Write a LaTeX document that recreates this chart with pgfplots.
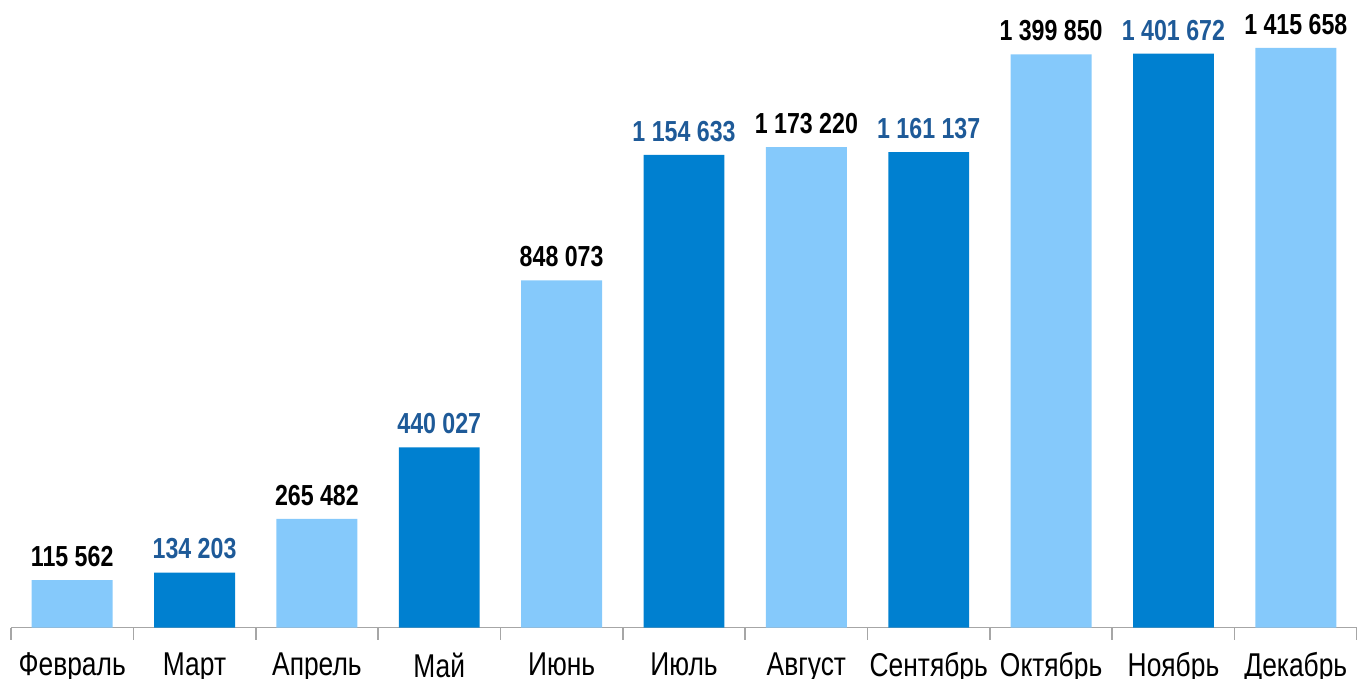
\documentclass[border=0pt]{standalone}
\usepackage{pgfplots}
\pgfplotsset{compat=1.18}
\usepackage{fontspec}
\setmainfont{Liberation Sans}[FakeStretch=0.8]
\definecolor{lightb}{HTML}{85C9FB}
\definecolor{darkb}{HTML}{0080D0}
\definecolor{labdark}{HTML}{1E5A98}
\definecolor{axgray}{HTML}{A6A6A6}
\begin{document}
\begin{tikzpicture}
\begin{axis}[
  scale only axis,
  width=673.5pt, height=314pt,
  xmin=-0.5, xmax=10.5, ymin=0, ymax=1532800,
  axis x line=bottom, axis y line=none,
  axis line style={axgray, line width=0.8pt, -},
  ybar, bar width=40.5pt, bar shift=0pt,
  xtick={0,...,10},
  xticklabels={Февраль,Март,Апрель,Май,Июнь,Июль,Август,Сентябрь,Октябрь,Ноябрь,Декабрь},
  major tick length=0pt,
  minor xtick={-0.5,0.5,...,10.5},
  minor tick length=6pt,
  minor tick style={axgray, line width=0.8pt},
  tick align=outside,
  xticklabel style={font=\fontsize{16.5pt}{17pt}\selectfont, anchor=north, yshift=-9pt},
  point meta=explicit symbolic,
  nodes near coords,
  every node near coord/.append style={font=\bfseries\fontsize{14.5pt}{15pt}\selectfont, anchor=south, inner sep=0pt, yshift=6.5pt},
  clip=false,
]
\addplot[fill=lightb, draw=none, every node near coord/.append style={text=black}] coordinates {
 (0,115562) [115 562]
 (2,265482) [265 482]
 (4,848073) [848 073]
 (6,1173220) [1 173 220]
 (8,1399850) [1 399 850]
 (10,1415658) [1 415 658]
};
\addplot[fill=darkb, draw=none, every node near coord/.append style={text=labdark}] coordinates {
 (1,134203) [134 203]
 (3,440027) [440 027]
 (5,1154633) [1 154 633]
 (7,1161137) [1 161 137]
 (9,1401672) [1 401 672]
};
\coordinate (bl) at (rel axis cs:0,0);
\coordinate (tr) at (rel axis cs:1,1);
\end{axis}
\pgfresetboundingbox
\path[use as bounding box] ([xshift=-5.5pt,yshift=-25.5pt]bl) rectangle (tr);
\end{tikzpicture}
\end{document}
